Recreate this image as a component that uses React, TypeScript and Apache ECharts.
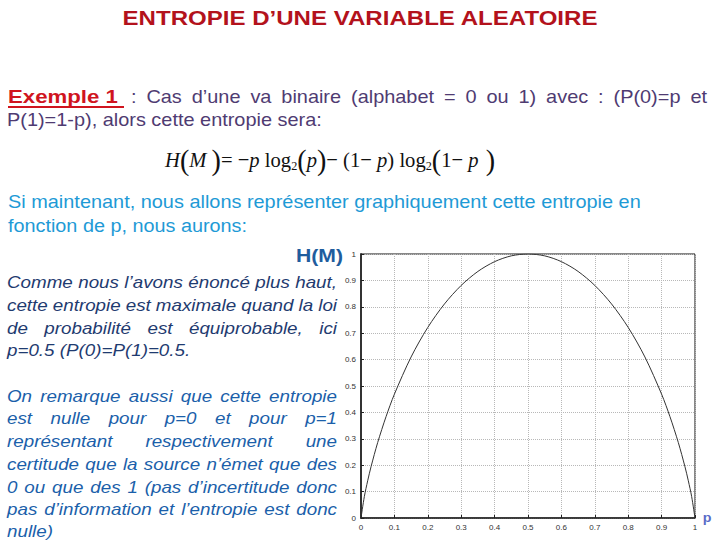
import React, { useEffect, useRef } from "react";
import * as echarts from "echarts";

// ---- data ----
const pValues = [0, 0.01, 0.02, 0.03, 0.05, 0.075, 0.1, 0.15, 0.2, 0.25, 0.3, 0.35, 0.4, 0.45, 0.5, 0.55, 0.6, 0.65, 0.7, 0.75, 0.8, 0.85, 0.9, 0.925, 0.95, 0.97, 0.98, 0.99, 1];
const hValues = [0, 0.081, 0.141, 0.194, 0.286, 0.384, 0.469, 0.61, 0.722, 0.811, 0.881, 0.934, 0.971, 0.993, 1, 0.993, 0.971, 0.934, 0.881, 0.811, 0.722, 0.61, 0.469, 0.384, 0.286, 0.194, 0.141, 0.081, 0];

const titleText = "ENTROPIE D\u2019UNE VARIABLE ALEATOIRE";
const exampleLabel = "Exemple 1";
const exampleLine1 = ": Cas d\u2019une va binaire (alphabet = 0 ou 1) avec :  (P(0)=p et";
const exampleLine2 = "P(1)=1-p), alors cette entropie sera:";
const introLines = [
  "Si maintenant, nous allons représenter graphiquement cette entropie en",
  "fonction de p, nous aurons:",
];
const yAxisName = "H(M)";
const xAxisName = "p";
const para1 = [
  "Comme nous l\u2019avons énoncé plus haut,",
  "cette entropie est maximale quand la loi",
  "de probabilité est équiprobable, ici",
  "p=0.5 (P(0)=P(1)=0.5.",
];
const para2 = [
  "On remarque aussi que cette entropie",
  "est nulle pour p=0 et pour p=1",
  "représentant respectivement une",
  "certitude que la source n\u2019émet que des",
  "0 ou que des 1 (pas d\u2019incertitude donc",
  "pas d\u2019information et l\u2019entropie est donc",
  "nulle)",
];

const SANS = "'Liberation Sans', Arial, sans-serif";
const SERIF = "'Liberation Serif', 'Times New Roman', serif";

let ctx: CanvasRenderingContext2D | null = null;
function measure(text: string, font: string): number {
  if (!ctx) ctx = document.createElement("canvas").getContext("2d");
  ctx!.font = font;
  return ctx!.measureText(text).width;
}

function textEl(text: string, x: number, y: number, font: string, fill: string, align = "left", sx = 1) {
  return {
    type: "text",
    x,
    y,
    scaleX: sx,
    silent: true,
    style: { text, font, fill, align, verticalAlign: "middle" },
  };
}

// single line stretched to a given width
function fitted(text: string, x: number, y: number, width: number, font: string, fill: string, align = "left") {
  const sx = width / measure(text, font);
  return textEl(text, x, y, font, fill, align, sx);
}

function justified(line: string, x0: number, x1: number, y: number, font: string, fill: string, sx: number) {
  const words = line.split(/\s+/).filter((w) => w.length);
  const widths = words.map((w) => measure(w, font) * sx);
  const total = widths.reduce((a, b) => a + b, 0);
  const gap = words.length > 1 ? (x1 - x0 - total) / (words.length - 1) : 0;
  const els: any[] = [];
  let x = x0;
  words.forEach((w, i) => {
    els.push(textEl(w, x, y, font, fill, "left", sx));
    x += widths[i] + gap;
  });
  return els;
}

function sequence(parts: { t: string; f: string; dy?: number }[], x0: number, x1: number, y: number, fill: string) {
  const widths = parts.map((p) => measure(p.t, p.f));
  const total = widths.reduce((a, b) => a + b, 0);
  const sx = (x1 - x0) / total;
  const els: any[] = [];
  let x = x0;
  parts.forEach((p, i) => {
    els.push(textEl(p.t, x, y + (p.dy || 0), p.f, fill, "left", sx));
    x += widths[i] * sx;
  });
  return els;
}

export default function App() {
  const ref = useRef<HTMLDivElement>(null);
  useEffect(() => {
    if (!ref.current) return;
    const chart = echarts.init(ref.current, null, { renderer: "svg" });

    const purple = "#4F3B72";
    const fBody = `18px ${SANS}`;
    const fItal = `italic 17px ${SANS}`;
    const graphics: any[] = [];

    graphics.push(fitted(titleText, 360, 18, 476, `bold 21px ${SANS}`, "#B3121C", "center"));

    // Exemple 1
    graphics.push(fitted(exampleLabel, 8, 97, 110, `bold 18px ${SANS}`, "#D0141E"));
    graphics.push({
      type: "line",
      silent: true,
      shape: { x1: 8, y1: 107, x2: 124, y2: 107 },
      style: { stroke: "#D0141E", lineWidth: 2 },
    });
    const bodySx = 315 / measure(exampleLine2, fBody);
    graphics.push(...justified(exampleLine1, 131, 707, 97, fBody, purple, bodySx));
    graphics.push(textEl(exampleLine2, 7, 120, fBody, purple, "left", bodySx));

    // Formula
    const fi = `italic 22px ${SERIF}`;
    const fn = `22px ${SERIF}`;
    const fp = `30px ${SERIF}`;
    const fs = `13px ${SERIF}`;
    graphics.push(
      ...sequence(
        [
          { t: "H", f: fi },
          { t: "(", f: fp },
          { t: "M ", f: fi },
          { t: ")", f: fp },
          { t: "= \u2212", f: fn },
          { t: "p", f: fi },
          { t: " log", f: fn },
          { t: "2", f: fs, dy: 6 },
          { t: "(", f: fp },
          { t: "p", f: fi },
          { t: ")", f: fp },
          { t: "\u2212 (1\u2212 ", f: fn },
          { t: "p", f: fi },
          { t: ") log", f: fn },
          { t: "2", f: fs, dy: 6 },
          { t: "(", f: fp },
          { t: "1\u2212 ", f: fn },
          { t: "p", f: fi },
          { t: " )", f: fp },
        ],
        165,
        495,
        160,
        "#111"
      )
    );

    // Intro
    graphics.push(fitted(introLines[0], 8, 202, 633, fBody, "#1E9AD6"));
    graphics.push(fitted(introLines[1], 8, 226, 239, fBody, "#1E9AD6"));
    graphics.push(fitted(yAxisName, 343, 255, 47, `bold 19px ${SANS}`, "#1F5D9E", "right"));
    graphics.push(textEl(xAxisName, 707, 518, `bold 13px ${SANS}`, "#5A6CC8", "center", 1.1));

    // paragraphs
    const italSx = (187 / measure(para1[3], fItal) + 45 / measure(para2[6], fItal)) / 2;
    const p1y = [282, 305, 328, 350];
    para1.forEach((l, i) => {
      if (i < para1.length - 1) graphics.push(...justified(l, 7, 337, p1y[i], fItal, "#1F3B70", italSx));
      else graphics.push(textEl(l, 7, p1y[i], fItal, "#1F3B70", "left", italSx));
    });
    const p2y = [396, 418, 441, 464, 487, 509, 531];
    para2.forEach((l, i) => {
      if (i < para2.length - 1) graphics.push(...justified(l, 7, 337, p2y[i], fItal, "#1B5FAA", italSx));
      else graphics.push(textEl(l, 7, p2y[i], fItal, "#1B5FAA", "left", italSx));
    });

    const fmt = (v: number) => (v === 0 ? "0" : v === 1 ? "1" : v.toFixed(1));

    chart.setOption({
      animation: false,
      backgroundColor: "#ffffff",
      grid: {
        left: 361,
        right: 25,
        top: 254,
        bottom: 22,
        show: true,
        borderColor: "#111",
        borderWidth: 1,
      },
      xAxis: {
        type: "value",
        min: 0,
        max: 1,
        interval: 0.1,
        axisLine: { show: true, lineStyle: { color: "#222", width: 1.5 } },
        axisTick: { show: true, inside: true, length: 3, lineStyle: { color: "#222" } },
        axisLabel: { fontSize: 8, color: "#333", margin: 5, formatter: fmt, fontFamily: SANS },
        splitLine: { show: true, lineStyle: { type: "dotted", color: "#b8b8b8" } },
      },
      yAxis: {
        type: "value",
        min: 0,
        max: 1,
        interval: 0.1,
        axisLine: { show: true, lineStyle: { color: "#333", width: 2 } },
        axisTick: { show: true, inside: true, length: 3, lineStyle: { color: "#222" } },
        axisLabel: { fontSize: 8, color: "#333", margin: 5, formatter: fmt, fontFamily: SANS },
        splitLine: { show: true, lineStyle: { type: "dotted", color: "#b8b8b8" } },
      },
      series: [
        {
          type: "line",
          data: pValues.map((p, i) => [p, hValues[i]]),
          smooth: 0.3,
          showSymbol: false,
          lineStyle: { color: "#333", width: 1 },
        },
      ],
      graphic: graphics,
    });
    return () => chart.dispose();
  }, []);
  return (
    <div
      ref={ref}
      style={{ position: "absolute", left: 0, top: 0, width: 720, height: 540, background: "#fff" }}
    />
  );
}
